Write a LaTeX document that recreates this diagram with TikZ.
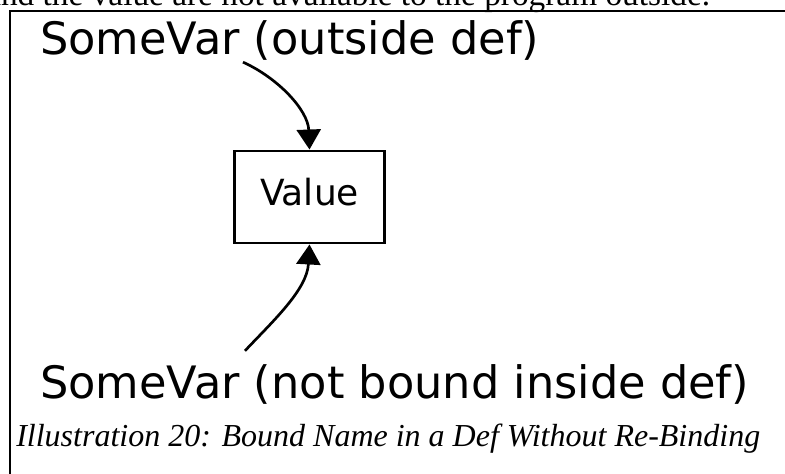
\documentclass[tikz,border=0pt]{standalone}
\usepackage{fontspec}
\setmainfont{Liberation Serif}
\newfontfamily\dejavu{DejaVu Sans}
\usetikzlibrary{positioning,calc,arrows.meta}

\begin{document}
\begin{tikzpicture}[x=0.75pt,y=-0.75pt,
    varlabel/.style={inner sep=0pt,font=\dejavu\fontsize{33.5}{40}\selectfont},
    valuebox/.style={draw,line width=2.2pt,minimum width=112pt,minimum height=69pt,inner sep=0pt,
        text height=18pt,text depth=6pt,font=\dejavu\fontsize{27}{32}\selectfont},
    bind/.style={line width=2pt,-{Triangle[length=15pt,width=18pt]}}]
    \useasboundingbox (0,0) rectangle (785,474);
    % page text and frame
    \node[inner sep=0pt,anchor=base west,font=\fontsize{25}{30}\selectfont] (pagetext) at (-14,6) {and the value are not available to the program outside.};
    \draw[line width=1.5pt] (10,474) -- (10,11) -- (785,11);

    % names and value
    \node[varlabel,anchor=base west] (outside) at (40,55) {SomeVar (outside def)};
    \node[valuebox] (value) at (309.5,197) {Value};
    \node[varlabel,anchor=base west] (inside) at (40,398) {SomeVar (not bound inside def)};
    \coordinate (outsidefoot) at ($(outside.south west)+(203,1)$);
    \coordinate (insidehead) at ($(inside.north west)+(205,-13)$);
    \draw[bind] (outsidefoot) .. controls (278,78) and (308,110) .. (value.north);
    \draw[bind] (insidehead) .. controls (272,322) and (307,290) .. (value.south);

    % caption
    \node[inner sep=0pt,anchor=base west,font=\itshape\fontsize{24}{29}\selectfont] (caption) at (16,446) {Illustration 20: Bound Name in a Def Without Re-Binding};
\end{tikzpicture}
\end{document}
